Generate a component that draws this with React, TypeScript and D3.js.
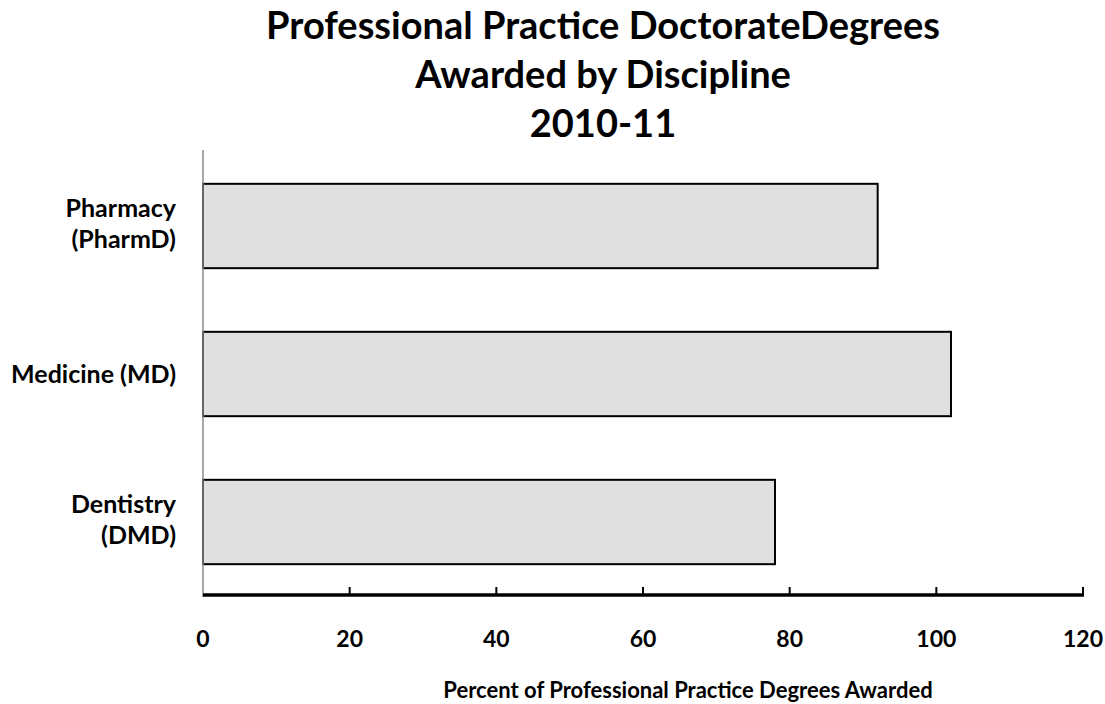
import React from "react";
import * as d3 from "d3";

const categories = ["Pharmacy (PharmD)", "Medicine (MD)", "Dentistry (DMD)"];
const categoryLines = [["Pharmacy", "(PharmD)"], ["Medicine (MD)"], ["Dentistry", "(DMD)"]];
const values = [92, 102, 78];
const xTicks = [0, 20, 40, 60, 80, 100, 120];
const titleLines = ["Professional Practice DoctorateDegrees", "Awarded by Discipline", "2010-11"];
const xAxisTitle = "Percent of Professional Practice Degrees Awarded";

const W = 1105;
const H = 704;
const FONT = "Lato, 'Open Sans', sans-serif";

export default function App() {
  const x = d3.scaleLinear().domain([0, 120]).range([203, 1083]);
  const y = d3.scaleBand<string>().domain(categories).range([152, 596]).paddingInner(0.43).paddingOuter(0.215);
  const axisY = 595;

  return (
    <svg width={W} height={H} style={{ position: "absolute", left: 0, top: 0, background: "#fff" }} fontFamily={FONT}>
      {titleLines.map((t, i) => (
        <text key={t} x={603} y={39 + i * 49} textAnchor="middle" fontSize={38} fontWeight={700} fill="#000">
          {t}
        </text>
      ))}
      {/* bars */}
      {categories.map((c, i) => (
        <rect
          key={c}
          x={x(0)}
          y={y(c)!}
          width={x(values[i]) - x(0)}
          height={y.bandwidth()}
          fill="#e0e0e0"
          stroke="#000"
          strokeWidth={2}
        />
      ))}
      {/* vertical axis */}
      <line x1={x(0)} x2={x(0)} y1={150} y2={axisY + 2} stroke="#888" strokeWidth={1.5} />
      {/* horizontal axis */}
      <line x1={x(0)} x2={x(120) + 1} y1={axisY} y2={axisY} stroke="#000" strokeWidth={3.5} />
      {xTicks.map((t) => (
        <g key={t}>
          {t > 0 && <line x1={x(t)} x2={x(t)} y1={axisY - 8} y2={axisY} stroke="#000" strokeWidth={2} />}
          <text x={x(t)} y={647} textAnchor="middle" fontSize={23} fontWeight={700} fill="#000">
            {t}
          </text>
        </g>
      ))}
      {/* category labels */}
      {categories.map((c, i) => {
        const cy = y(c)! + y.bandwidth() / 2;
        const lines = categoryLines[i];
        return lines.map((ln, j) => {
          const by = lines.length === 1 ? cy + 9 : cy - 9 + j * 31;
          return (
            <text key={c + j} x={176} y={by} textAnchor="end" fontSize={25} fontWeight={700} fill="#000">
              {ln}
            </text>
          );
        });
      })}
      <text x={688} y={698} textAnchor="middle" fontSize={22} fontWeight={700} fill="#000">
        {xAxisTitle}
      </text>
    </svg>
  );
}
